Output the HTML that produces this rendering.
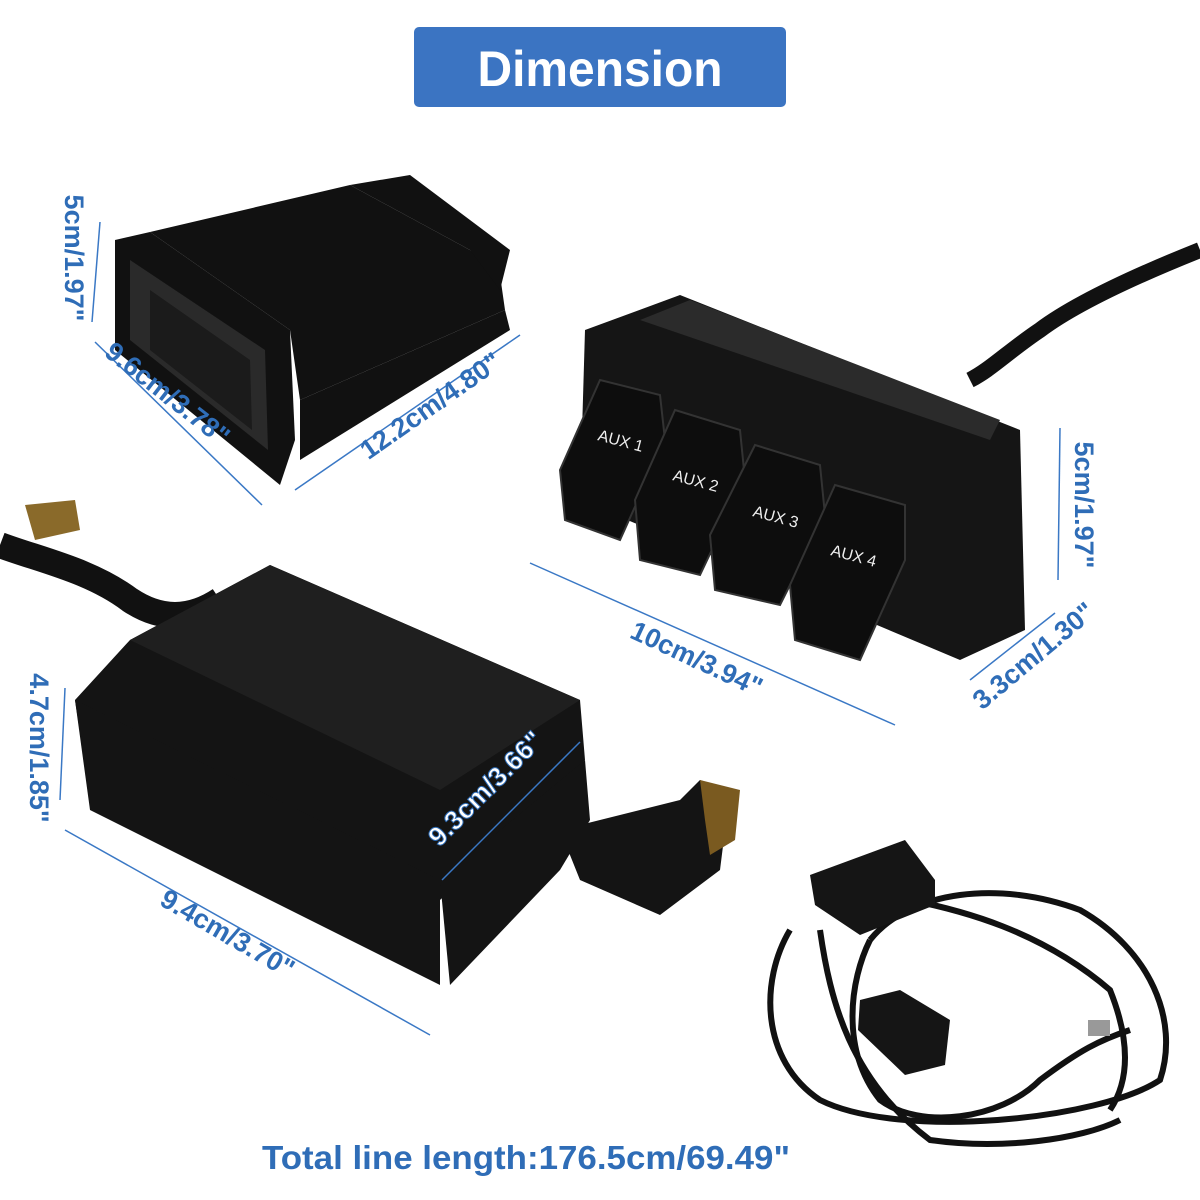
<!DOCTYPE html>
<html><head><meta charset="utf-8"><style>
html,body{margin:0;padding:0;background:#fff;}
svg{display:block}
</style></head><body>
<svg width="1200" height="1200" viewBox="0 0 1200 1200" xmlns="http://www.w3.org/2000/svg">
<rect width="1200" height="1200" fill="#fff"/>
<rect x="414" y="27" width="372" height="80" rx="5" fill="#3b74c2"/>
<text x="600" y="86" text-anchor="middle" font-family="Liberation Sans, sans-serif" font-weight="bold" font-size="50" fill="#fff" textLength="245" lengthAdjust="spacingAndGlyphs">Dimension</text>

<!-- top-left socket -->
<g fill="#111">
<polygon points="115,240 150,232 290,330 295,440 280,485 115,350"/>
<polygon points="150,232 350,185 470,250 500,275 505,310 300,400 290,330"/>
<polygon points="350,185 410,175 510,250 500,290 470,250"/>
<polygon points="300,400 505,310 510,330 300,460"/>
</g>
<polygon points="130,260 265,350 268,450 130,340" fill="#2a2a2a"/>
<polygon points="150,290 250,360 252,430 150,350" fill="#1b1b1b"/>

<!-- switch panel -->
<path d="M1200,250 C1150,270 1080,300 1040,330 C1010,350 990,370 970,380" stroke="#111" stroke-width="16" fill="none"/>
<polygon points="585,330 680,295 1020,430 1025,630 960,660 580,500" fill="#151515"/>
<polygon points="640,320 690,300 1000,420 990,440" fill="#2b2b2b"/>
<g fill="#0d0d0d" stroke="#333" stroke-width="2">
<polygon points="600,380 660,395 665,440 620,540 565,520 560,470"/>
<polygon points="675,410 740,430 745,480 700,575 640,560 635,500"/>
<polygon points="755,445 820,465 825,515 780,605 715,590 710,535"/>
<polygon points="835,485 905,505 905,560 860,660 795,640 790,585"/>
</g>
<g font-family="Liberation Sans, sans-serif" font-size="16" fill="#eee">
<text x="597" y="440" transform="rotate(15 597 440)">AUX 1</text>
<text x="672" y="480" transform="rotate(15 672 480)">AUX 2</text>
<text x="752" y="516" transform="rotate(15 752 516)">AUX 3</text>
<text x="830" y="555" transform="rotate(15 830 555)">AUX 4</text>
</g>

<!-- fuse box -->
<path d="M0,545 C40,560 90,570 130,600 C160,620 190,620 220,600" stroke="#111" stroke-width="26" fill="none"/>
<polygon points="25,505 75,500 80,530 35,540" fill="#8a6a2a"/>
<g fill="#141414">
<polygon points="130,640 270,565 580,700 585,760 440,900 440,890 90,800 75,700"/>
<polygon points="75,700 440,880 440,985 90,810"/>
<polygon points="440,880 585,760 590,820 560,870 450,985"/>
<polygon points="560,830 680,800 700,780 730,790 720,870 660,915 580,880"/>
</g>
<polygon points="700,780 740,790 735,840 710,855 705,820" fill="#7a5a20"/>
<polygon points="130,640 270,565 580,700 440,790" fill="#1f1f1f"/>

<!-- harness -->
<g fill="none" stroke="#111" stroke-width="6">
<path d="M790,930 C760,980 760,1060 820,1100 C900,1140 1100,1120 1160,1080 C1180,1020 1150,950 1080,910 C1000,880 910,890 870,940"/>
<path d="M870,940 C850,980 840,1050 880,1100 C920,1130 1000,1120 1040,1080 C1080,1050 1100,1040 1130,1030"/>
<path d="M910,900 C960,910 1040,930 1110,990 C1130,1040 1130,1080 1110,1110"/>
<path d="M820,930 C830,1000 850,1080 930,1140 C1000,1150 1080,1140 1120,1120"/>
</g>
<polygon points="810,875 905,840 935,880 935,905 860,935 815,905" fill="#151515"/>
<polygon points="860,1000 900,990 950,1020 945,1065 905,1075 858,1030" fill="#151515"/>
<rect x="1088" y="1020" width="22" height="16" fill="#999"/>

<g stroke="#3a78c5" stroke-width="1.5" fill="none">
<line x1="100" y1="222" x2="92" y2="322"/>
<line x1="95" y1="342" x2="262" y2="505"/>
<line x1="295" y1="490" x2="520" y2="335"/>
<line x1="1060" y1="428" x2="1058" y2="580"/>
<line x1="530" y1="563" x2="895" y2="725"/>
<line x1="970" y1="680" x2="1055" y2="613"/>
<line x1="65" y1="688" x2="60" y2="800"/>
<line x1="442" y1="880" x2="580" y2="742"/>
<line x1="65" y1="830" x2="430" y2="1035"/>
</g>

<g font-family="Liberation Sans, sans-serif" font-weight="bold" font-size="27" fill="#2f6db7" text-anchor="middle">
<text x="75" y="268" transform="rotate(90 75 258)">5cm/1.97"</text>
<text x="168" y="403" transform="rotate(38 168 393)">9.6cm/3.78"</text>
<text x="430" y="415" transform="rotate(-35 430 405)">12.2cm/4.80"</text>
<text x="1085" y="515" transform="rotate(90 1085 505)">5cm/1.97"</text>
<text x="697" y="668" transform="rotate(25 697 658)">10cm/3.94"</text>
<text x="1033" y="665" transform="rotate(-40 1033 655)">3.3cm/1.30"</text>
<text x="40" y="758" transform="rotate(90 40 748)">4.7cm/1.85"</text>
<text x="485" y="798" transform="rotate(-45 485 788)" fill="#fff" stroke="#2f6db7" stroke-width="1">9.3cm/3.66"</text>
<text x="228" y="943" transform="rotate(30 228 933)">9.4cm/3.70"</text>
<text x="526" y="1169" font-size="33" textLength="528" lengthAdjust="spacingAndGlyphs">Total line length:176.5cm/69.49"</text>
</g>
</svg>
</body></html>
